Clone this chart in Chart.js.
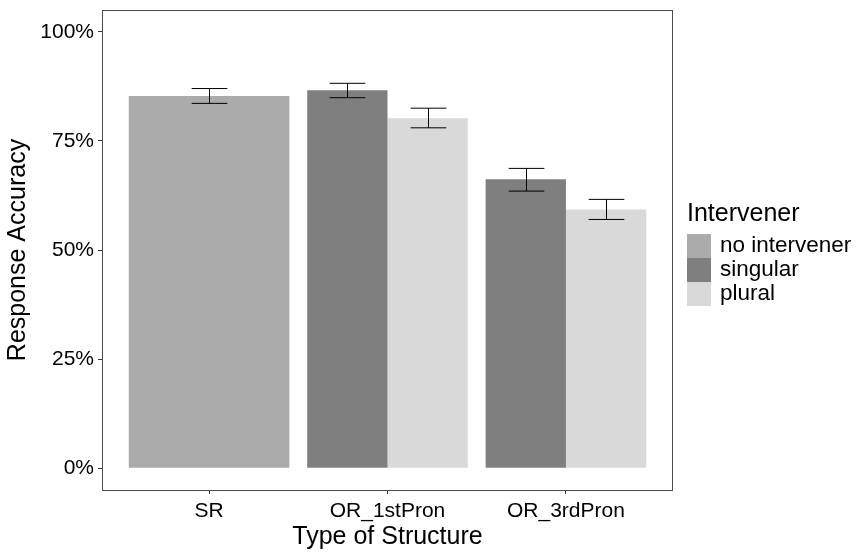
<!DOCTYPE html>
<html lang="en">
<head>
<meta charset="UTF-8">
<title>Response Accuracy by Type of Structure</title>
<script src="https://cdn.jsdelivr.net/npm/chart.js"></script>
<style>
    html, body { margin: 0; padding: 0; background: #fff; }
    #wrap { width: 863px; height: 554px; }
</style>
</head>
<body>
<div id="wrap"><canvas id="accChart" width="863" height="554"></canvas></div>
<script>
    const categories = ["SR", "OR_1stPron", "OR_3rdPron"];
    const groupNames = ["no intervener", "singular", "plural"];
    const groupColors = ["#ababab", "#7f7f7f", "#d9d9d9"];

    // mean accuracy (%) per structure, null where the group does not exist
    const noIntervener = [85.3, null, null];
    const singular = [null, 86.6, 66.2];
    const plural = [null, 80.2, 59.3];

    // error bar ends (%)
    const noIntervenerLow = [83.6, null, null];
    const noIntervenerHigh = [87.0, null, null];
    const singularLow = [null, 84.9, 63.5];
    const singularHigh = [null, 88.2, 68.7];
    const pluralLow = [null, 78.0, 57.0];
    const pluralHigh = [null, 82.5, 61.6];

    const yTicks = [0, 25, 50, 75, 100];

    const seriesValues = [noIntervener, singular, plural];
    const seriesLow = [noIntervenerLow, singularLow, pluralLow];
    const seriesHigh = [noIntervenerHigh, singularHigh, pluralHigh];

    const FONT = "'Liberation Sans', Arial, sans-serif";

    function toPoints(arr) {
        return categories.map((c, i) => ({ x: i + 1, y: arr[i] }));
    }

    const errorBars = {
        id: "errorBars",
        afterDatasetsDraw(chart) {
            const ctx = chart.ctx;
            const xs = chart.scales.x;
            const ys = chart.scales.y;
            const half = 0.1 * (xs.getPixelForValue(2) - xs.getPixelForValue(1));
            ctx.save();
            ctx.strokeStyle = "#000";
            ctx.lineWidth = 1;
            chart.data.datasets.forEach((ds, d) => {
                const meta = chart.getDatasetMeta(d);
                meta.data.forEach((bar, i) => {
                    if (seriesValues[d][i] == null) return;
                    const x = Math.round(bar.x) + 0.5;
                    const lo = ys.getPixelForValue(seriesLow[d][i]);
                    const hi = ys.getPixelForValue(seriesHigh[d][i]);
                    ctx.beginPath();
                    ctx.moveTo(x, lo); ctx.lineTo(x, hi);
                    ctx.moveTo(x - half, lo); ctx.lineTo(x + half, lo);
                    ctx.moveTo(x - half, hi); ctx.lineTo(x + half, hi);
                    ctx.stroke();
                });
            });
            ctx.restore();
        }
    };

    const panelBox = {
        id: "panelBox",
        afterDraw(chart) {
            const a = chart.chartArea;
            const ctx = chart.ctx;
            ctx.save();
            ctx.strokeStyle = "#4d4d4d";
            ctx.lineWidth = 1;
            ctx.strokeRect(Math.round(a.left) + 0.5, Math.round(a.top) + 0.5,
                Math.round(a.right - a.left) - 1, Math.round(a.bottom - a.top));
            ctx.restore();
        }
    };

    const sideLegend = {
        id: "sideLegend",
        afterDraw(chart) {
            const ctx = chart.ctx;
            ctx.save();
            ctx.fillStyle = "#000";
            ctx.textAlign = "left";
            ctx.textBaseline = "alphabetic";
            ctx.font = "25px " + FONT;
            ctx.fillText("Intervener", 687, 221);
            ctx.font = "22.5px " + FONT;
            ctx.textBaseline = "middle";
            groupNames.forEach((name, i) => {
                const top = 234 + i * 24;
                ctx.fillStyle = groupColors[i];
                ctx.fillRect(687, top, 24, 24);
                ctx.fillStyle = "#000";
                ctx.fillText(name, 720, top + 12);
            });
            ctx.restore();
        }
    };

    new Chart(document.getElementById("accChart"), {
        type: "bar",
        data: {
            datasets: seriesValues.map((vals, d) => ({
                label: groupNames[d],
                data: toPoints(vals),
                backgroundColor: groupColors[d],
                borderWidth: 0,
                barPercentage: 1.0,
                categoryPercentage: 0.9,
                skipNull: true
            }))
        },
        options: {
            responsive: false,
            animation: false,
            layout: { padding: { left: 0, right: 190, top: 10, bottom: 0 } },
            plugins: {
                legend: { display: false },
                tooltip: { enabled: false }
            },
            scales: {
                x: {
                    type: "linear",
                    min: 0.4,
                    max: 3.6,
                    offset: false,
                    afterBuildTicks(scale) {
                        scale.ticks = categories.map((c, i) => ({ value: i + 1 }));
                    },
                    afterFit(scale) {
                        scale.height = 64;
                        scale.paddingLeft = 0;
                        scale.paddingRight = 0;
                    },
                    ticks: {
                        autoSkip: false,
                        maxRotation: 0,
                        padding: 5,
                        color: "#000",
                        font: { family: FONT, size: 21 },
                        callback: (v) => categories[v - 1]
                    },
                    grid: { offset: false, drawOnChartArea: false, drawTicks: true, tickLength: 4, color: "#333" },
                    border: { display: false },
                    title: {
                        display: true,
                        text: "Type of Structure",
                        color: "#000",
                        font: { family: FONT, size: 25 },
                        padding: { top: 0, bottom: 2 }
                    }
                },
                y: {
                    min: -5,
                    max: 105,
                    afterBuildTicks(scale) {
                        scale.ticks = yTicks.map(v => ({ value: v }));
                    },
                    afterFit(scale) {
                        scale.width = 102;
                        scale.paddingTop = 0;
                        scale.paddingBottom = 0;
                    },
                    ticks: {
                        padding: 4,
                        color: "#000",
                        font: { family: FONT, size: 21 },
                        callback: (v) => v + "%"
                    },
                    grid: { drawOnChartArea: false, drawTicks: true, tickLength: 4, color: "#333" },
                    border: { display: false },
                    title: {
                        display: true,
                        text: "Response Accuracy",
                        color: "#000",
                        font: { family: FONT, size: 25 },
                        padding: { top: 3, bottom: 0 }
                    }
                }
            }
        },
        plugins: [errorBars, panelBox, sideLegend]
    });
</script>
</body>
</html>
